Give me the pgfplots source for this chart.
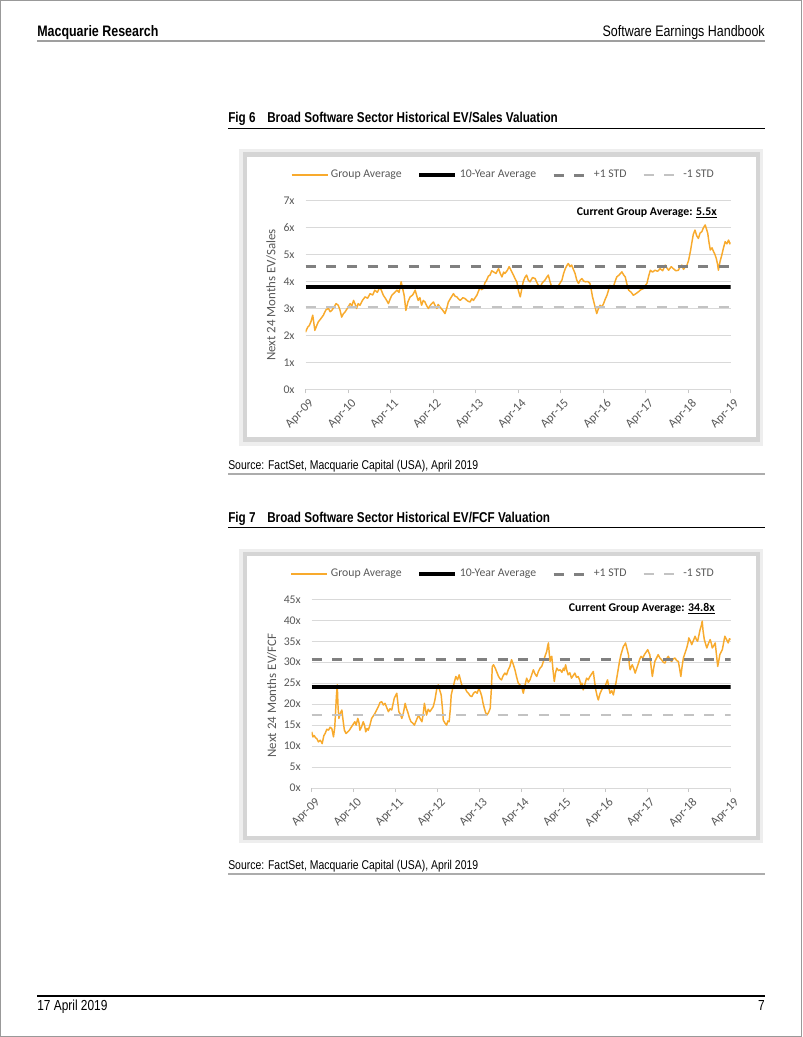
\documentclass[border=0pt]{standalone}
\usepackage{fontspec}
\usepackage{pgfplots}
\usepackage{pgfplotstable}
\pgfplotsset{compat=1.18}
\setmainfont{Liberation Sans}
\newfontfamily\narrow[FakeStretch=0.82]{Liberation Sans}
\newfontfamily\calfont{Carlito}
\definecolor{orng}{RGB}{248,170,45}
\definecolor{dkg}{RGB}{128,128,128}
\definecolor{ltg}{RGB}{195,195,195}
\definecolor{txtg}{RGB}{89,89,89}
\definecolor{gridg}{RGB}{217,217,217}

\pgfplotstableread{
t v
0.00 2.12
0.05 2.30
0.09 2.37
0.13 2.52
0.17 2.75
0.22 2.19
0.26 2.35
0.30 2.50
0.36 2.62
0.42 2.75
0.48 2.95
0.54 3.00
0.58 2.88
0.62 2.93
0.67 3.05
0.72 3.18
0.77 3.12
0.81 2.95
0.85 2.68
0.89 2.80
0.93 2.87
0.99 3.02
1.05 3.18
1.09 3.10
1.13 3.30
1.17 3.15
1.20 3.00
1.24 3.18
1.28 3.12
1.34 3.30
1.40 3.43
1.46 3.38
1.52 3.55
1.58 3.50
1.63 3.68
1.69 3.60
1.75 3.80
1.79 3.65
1.83 3.49
1.89 3.35
1.95 3.18
1.99 3.35
2.03 3.49
2.09 3.58
2.15 3.68
2.20 3.60
2.25 3.99
2.29 3.70
2.32 3.49
2.36 2.93
2.41 3.25
2.46 3.43
2.52 3.50
2.58 3.68
2.62 3.45
2.65 3.30
2.69 3.40
2.73 3.12
2.77 3.30
2.81 3.24
2.85 3.10
2.89 3.00
2.95 3.15
3.01 3.24
3.05 3.10
3.09 3.00
3.12 3.15
3.16 3.06
3.22 2.95
3.28 2.81
3.32 3.00
3.36 3.24
3.42 3.40
3.48 3.55
3.52 3.45
3.56 3.43
3.60 3.35
3.64 3.30
3.70 3.40
3.75 3.37
3.81 3.28
3.87 3.24
3.91 3.36
3.95 3.30
3.99 3.40
4.03 3.49
4.07 3.65
4.11 3.80
4.14 3.70
4.18 3.74
4.22 3.95
4.26 4.05
4.30 4.20
4.34 4.24
4.38 4.40
4.42 4.36
4.48 4.30
4.54 4.48
4.58 4.30
4.62 4.17
4.66 4.35
4.69 4.30
4.74 4.40
4.79 4.55
4.84 4.40
4.89 4.24
4.93 4.10
4.97 3.99
5.01 3.65
5.05 3.43
5.09 3.75
5.12 3.99
5.16 4.15
5.20 4.24
5.24 4.05
5.28 3.99
5.34 4.15
5.40 4.11
5.46 3.90
5.52 3.80
5.57 3.95
5.63 4.05
5.67 4.15
5.71 4.24
5.75 4.00
5.79 3.80
5.85 3.85
5.91 3.74
5.97 3.90
6.03 4.05
6.07 4.30
6.11 4.48
6.15 4.60
6.18 4.67
6.22 4.55
6.26 4.61
6.30 4.45
6.34 4.30
6.38 4.05
6.42 3.93
6.46 4.05
6.50 4.11
6.54 4.02
6.58 3.99
6.64 4.00
6.69 3.93
6.72 3.70
6.75 3.43
6.78 3.25
6.81 3.06
6.85 2.81
6.89 3.00
6.93 3.12
6.97 3.05
7.01 3.18
7.05 3.35
7.09 3.49
7.13 3.70
7.16 3.86
7.20 3.75
7.24 3.80
7.28 4.00
7.32 4.17
7.38 4.25
7.44 4.36
7.48 4.25
7.52 4.17
7.56 3.90
7.60 3.68
7.66 3.60
7.71 3.49
7.77 3.55
7.83 3.62
7.89 3.70
7.95 3.74
7.99 3.85
8.03 3.93
8.07 4.20
8.11 4.42
8.16 4.35
8.22 4.42
8.28 4.38
8.34 4.48
8.40 4.40
8.46 4.61
8.50 4.50
8.54 4.42
8.60 4.55
8.65 4.48
8.71 4.40
8.77 4.42
8.81 4.55
8.85 4.61
8.89 4.45
8.93 4.55
8.97 4.60
9.01 4.79
9.05 5.10
9.09 5.48
9.12 5.75
9.16 5.91
9.20 5.70
9.24 5.60
9.28 5.80
9.32 5.85
9.36 6.00
9.40 6.10
9.43 5.95
9.46 5.79
9.49 5.45
9.52 5.17
9.56 5.25
9.60 5.10
9.63 5.00
9.66 4.86
9.69 4.65
9.71 4.42
9.75 4.75
9.79 4.98
9.83 5.25
9.87 5.48
9.91 5.40
9.95 5.54
9.98 5.40
10.00 5.45
}\evsales

\pgfplotstableread{
t v
0.00 13.4
0.03 12.2
0.06 12.5
0.09 12.0
0.12 11.8
0.16 11.0
0.20 11.4
0.23 11.0
0.25 10.6
0.29 12.5
0.32 13.0
0.36 14.0
0.40 13.8
0.44 14.5
0.48 14.2
0.52 12.2
0.55 14.5
0.57 18.2
0.59 22.0
0.61 24.6
0.63 19.0
0.65 16.6
0.69 18.0
0.72 18.6
0.75 16.0
0.78 13.8
0.82 13.0
0.86 13.4
0.90 13.8
0.95 14.6
0.99 15.2
1.03 15.8
1.06 15.0
1.10 16.6
1.13 15.5
1.15 13.8
1.19 14.6
1.23 15.8
1.26 15.0
1.29 13.4
1.32 14.2
1.35 13.8
1.39 15.0
1.43 16.6
1.47 17.2
1.51 17.8
1.55 18.6
1.59 19.4
1.63 20.4
1.67 20.6
1.71 19.8
1.75 20.2
1.79 19.2
1.83 18.2
1.87 18.9
1.91 18.6
1.94 20.0
1.97 21.4
2.00 22.0
2.03 22.6
2.06 20.0
2.08 18.2
2.12 17.5
2.15 16.6
2.19 18.0
2.23 20.2
2.26 19.0
2.29 18.2
2.33 16.8
2.37 15.8
2.41 15.5
2.45 15.0
2.50 16.2
2.55 17.4
2.59 16.5
2.63 15.8
2.66 17.5
2.69 20.2
2.72 18.5
2.74 17.4
2.78 18.8
2.82 18.2
2.86 18.8
2.90 19.4
2.94 21.0
2.98 23.4
3.02 24.6
3.05 23.5
3.09 22.2
3.12 19.0
3.14 16.2
3.18 15.5
3.22 15.0
3.25 16.0
3.28 15.8
3.31 19.0
3.33 22.2
3.36 23.5
3.38 24.2
3.41 25.5
3.44 26.6
3.48 25.8
3.52 27.0
3.55 25.8
3.58 24.6
3.62 24.0
3.66 23.8
3.70 23.0
3.74 22.6
3.78 22.0
3.82 21.8
3.86 22.6
3.91 23.0
3.95 22.6
3.99 23.8
4.03 22.8
4.06 21.8
4.09 20.2
4.12 19.0
4.15 18.0
4.18 17.4
4.22 18.0
4.26 19.0
4.29 24.0
4.31 29.0
4.34 29.4
4.38 28.6
4.42 27.6
4.46 26.6
4.50 26.0
4.53 25.8
4.57 26.8
4.61 27.4
4.65 27.0
4.69 28.2
4.73 29.0
4.77 30.6
4.81 29.5
4.85 28.2
4.89 26.5
4.93 25.0
4.97 24.6
5.01 24.2
5.05 22.6
5.09 24.5
5.13 26.2
5.17 25.2
5.21 25.8
5.25 27.0
5.29 28.2
5.33 27.2
5.37 26.6
5.41 27.8
5.45 28.6
5.49 29.0
5.53 30.2
5.57 31.5
5.61 32.6
5.63 33.8
5.65 34.6
5.67 32.0
5.69 30.2
5.71 31.2
5.73 31.4
5.76 28.0
5.79 25.4
5.82 27.5
5.85 28.6
5.89 28.0
5.93 28.2
5.97 27.6
6.01 28.6
6.03 28.0
6.06 29.4
6.09 28.0
6.12 27.0
6.16 27.5
6.20 26.2
6.24 26.8
6.28 27.4
6.32 26.4
6.36 26.6
6.40 25.6
6.43 24.2
6.45 25.0
6.48 23.4
6.52 24.8
6.56 26.2
6.60 25.8
6.64 26.6
6.68 27.2
6.72 27.8
6.75 25.5
6.78 23.4
6.81 22.0
6.84 21.0
6.88 22.5
6.92 23.4
6.96 24.0
7.00 24.2
7.03 25.0
7.06 25.8
7.09 24.0
7.12 22.6
7.16 23.2
7.20 22.2
7.23 23.8
7.26 25.0
7.29 26.8
7.32 28.6
7.35 30.4
7.38 31.8
7.41 32.8
7.44 33.8
7.47 34.2
7.49 34.6
7.53 33.0
7.56 31.8
7.58 29.5
7.60 28.2
7.63 29.0
7.65 29.4
7.69 28.4
7.72 27.4
7.76 28.6
7.80 29.8
7.83 30.8
7.86 31.4
7.90 31.0
7.94 31.8
7.98 32.4
8.02 33.0
8.05 32.2
8.07 31.8
8.10 29.0
8.13 26.6
8.16 28.5
8.19 30.2
8.23 31.0
8.27 31.8
8.31 31.0
8.35 30.6
8.39 30.0
8.43 29.8
8.47 30.8
8.51 31.4
8.55 30.6
8.59 30.2
8.63 30.8
8.67 31.0
8.71 30.4
8.75 30.2
8.78 28.5
8.81 26.6
8.84 29.0
8.87 31.0
8.91 32.2
8.95 33.4
8.98 34.6
9.00 35.8
9.04 35.0
9.07 34.2
9.11 35.2
9.15 36.2
9.18 35.4
9.21 35.0
9.24 36.4
9.27 37.8
9.30 38.8
9.32 39.8
9.34 37.5
9.37 35.4
9.40 34.4
9.43 33.4
9.47 34.5
9.51 35.4
9.54 34.4
9.56 33.4
9.60 34.0
9.63 34.6
9.66 31.8
9.69 29.0
9.72 30.6
9.74 31.8
9.77 32.4
9.80 33.0
9.83 34.6
9.86 36.2
9.90 35.4
9.94 34.6
9.97 35.6
10.00 35.4
}\evfcf

\pgfplotsset{
  mychart/.style={
    scale only axis, anchor=south west,
    xmin=0, xmax=10,
    axis x line*=bottom, axis y line*=left,
    y axis line style={draw=none},
    x axis line style={gridg, line width=0.75pt, -},
    ytick style={draw=none},
    xtick style={gray!45, line width=0.6pt},
    tick align=outside, major tick length=3pt,
    ymajorgrids, major grid style={gridg, line width=0.75pt},
    xtick={0,...,10},
    xticklabels={Apr-09,Apr-10,Apr-11,Apr-12,Apr-13,Apr-14,Apr-15,Apr-16,Apr-17,Apr-18,Apr-19},
    ticklabel style={font=\calfont\fontsize{8.8}{10}\selectfont, text=txtg},
    xticklabel style={font=\calfont\fontsize{9.3}{10}\selectfont, rotate=45, anchor=north east, inner sep=1pt, yshift=-3pt},
    yticklabel style={inner sep=0pt, xshift=-5pt},
    ylabel style={font=\calfont\fontsize{9.7}{11}\selectfont, text=txtg, anchor=center},
    legend columns=4,
    legend style={draw=none, fill=none, anchor=center,
      font=\calfont\fontsize{8.8}{10}\selectfont, text=txtg,
      /tikz/every even column/.append style={column sep=10pt}},
    legend image code/.code={\draw[#1] (0pt,0pt) -- (27pt,0pt);},
  },
  grp/.style={orng, line width=1.1pt, line join=round},
  avg/.style={black, line width=2.6pt},
  pstd/.style={dkg, line width=2.3pt, dash pattern=on 7.5pt off 8pt},
  mstd/.style={ltg, line width=1.6pt, dash pattern=on 7.5pt off 8pt},
}

\begin{document}
\begin{tikzpicture}
\begin{scope}[x=0.75pt, y=-0.75pt]
  \useasboundingbox (0,0) rectangle (802,1037);
  \fill[white] (0,0) rectangle (802,1037);
  \draw[gray!80, line width=0.75pt] (0.5,0.5) rectangle (801.5,1036.5);
  % header
  \node[anchor=base west, inner sep=0, font=\narrow\bfseries\fontsize{11.4}{13}\selectfont] at (37,36.5) {Macquarie Research};
  \node[anchor=base east, inner sep=0, font=\narrow\fontsize{11.4}{13}\selectfont] at (765,36.5) {Software Earnings Handbook};
  \draw[gray!75, line width=1.5pt] (37,41) -- (765,41);
  % fig 6 caption
  \node[anchor=base west, inner sep=0, font=\narrow\bfseries\fontsize{10.7}{12}\selectfont] at (228,123) {Fig 6};
  \node[anchor=base west, inner sep=0, font=\narrow\bfseries\fontsize{10.7}{12}\selectfont] at (267,123) {Broad Software Sector Historical EV/Sales Valuation};
  \draw[black, line width=1.1pt] (228,128.5) -- (765,128.5);
  % chart 1 frame
  \fill[gray!13] (239,149) rectangle (763,446);
  \fill[gray!33] (243,152) rectangle (760,442);
  \fill[white] (247,157) rectangle (756,437);
  \node[anchor=east, inner sep=0, font=\calfont\bfseries\fontsize{8.85}{10}\selectfont] at (717,213) {Current Group Average: \underline{5.5x}};
  % source 1
  \node[anchor=base west, inner sep=0, font=\narrow\fontsize{9.55}{11}\selectfont] at (228,469.5) {Source: FactSet, Macquarie Capital (USA), April 2019};
  \draw[gray!65, line width=1.5pt] (228,473.5) -- (765,473.5);
  % fig 7 caption
  \node[anchor=base west, inner sep=0, font=\narrow\bfseries\fontsize{10.7}{12}\selectfont] at (228,522) {Fig 7};
  \node[anchor=base west, inner sep=0, font=\narrow\bfseries\fontsize{10.7}{12}\selectfont] at (267,522) {Broad Software Sector Historical EV/FCF Valuation};
  \draw[black, line width=1.1pt] (228,527.5) -- (765,527.5);
  % chart 2 frame
  \fill[gray!13] (239,549) rectangle (763,843);
  \fill[gray!33] (243,552) rectangle (760,840);
  \fill[white] (247,556) rectangle (756,836);
  \node[anchor=east, inner sep=0, font=\calfont\bfseries\fontsize{8.85}{10}\selectfont] at (715,609) {Current Group Average: \underline{34.8x}};
  % source 2
  \node[anchor=base west, inner sep=0, font=\narrow\fontsize{9.55}{11}\selectfont] at (228,869.5) {Source: FactSet, Macquarie Capital (USA), April 2019};
  \draw[gray!65, line width=1.5pt] (228,873.5) -- (765,873.5);
  % footer
  \draw[black, line width=1.1pt] (37,996) -- (765,996);
  \node[anchor=base west, inner sep=0, font=\narrow\fontsize{10.9}{12}\selectfont] at (37,1010.5) {17 April 2019};
  \node[anchor=base east, inner sep=0, font=\narrow\fontsize{10.9}{12}\selectfont] at (765,1010.5) {7};
\end{scope}

\begin{axis}[mychart,
  at={(229.125pt,-291.975pt)},
  width=318.9pt, height=141.45pt,
  ymin=0, ymax=7,
  ytick={0,...,7},
  yticklabels={0x,1x,2x,3x,4x,5x,6x,7x},
  ylabel={Next 24 Months EV/Sales},
  ylabel style={at={(axis description cs:-0.081,0.5)}},
  legend style={at={(axis description cs:0.466,1.136)}},
]
\addplot[grp] table[x=t, y=v] {\evsales};
\addlegendentry{Group Average}
\addplot[avg] coordinates {(0,3.80) (10,3.80)};
\addlegendentry{10-Year Average}
\addplot[pstd] coordinates {(0,4.57) (10,4.57)};
\addlegendentry{+1 STD}
\addplot[mstd] coordinates {(0,3.04) (10,3.04)};
\addlegendentry{-1 STD}
\end{axis}

\begin{axis}[mychart,
  at={(233.775pt,-591pt)},
  width=314.25pt, height=141.5pt,
  ymin=0, ymax=45,
  ytick={0,5,...,45},
  yticklabels={0x,5x,10x,15x,20x,25x,30x,35x,40x,45x},
  ylabel={Next 24 Months EV/FCF},
  ylabel style={at={(axis description cs:-0.095,0.49)}},
  legend style={at={(axis description cs:0.458,1.134)}},
]
\addplot[grp] table[x=t, y=v] {\evfcf};
\addlegendentry{Group Average}
\addplot[avg] coordinates {(0,24.1) (10,24.1)};
\addlegendentry{10-Year Average}
\addplot[pstd] coordinates {(0,30.6) (10,30.6)};
\addlegendentry{+1 STD}
\addplot[mstd] coordinates {(0,17.5) (10,17.5)};
\addlegendentry{-1 STD}
\end{axis}
\end{tikzpicture}
\end{document}
